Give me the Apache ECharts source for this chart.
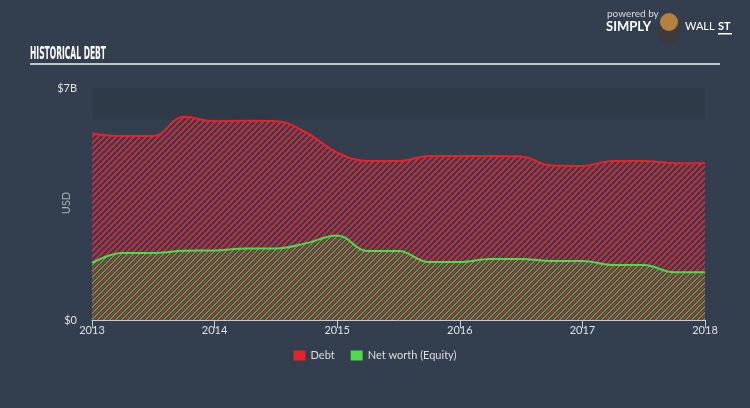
<!DOCTYPE html>
<html>
<head>
<meta charset="utf-8">
<script src="https://cdn.jsdelivr.net/npm/echarts@6/dist/echarts.min.js"></script>
<style>
html,body{margin:0;padding:0;background:#333f4f;}
#c{width:750px;height:408px;}
</style>
</head>
<body>
<div id="c"></div>
<script>
var periods = [2013, 2013.25, 2013.5, 2013.75, 2014, 2014.25, 2014.5, 2014.75, 2015, 2015.25, 2015.5, 2015.75, 2016, 2016.25, 2016.5, 2016.75, 2017, 2017.25, 2017.5, 2017.75, 2018];
var debt = [5.63, 5.55, 5.55, 6.13, 6.00, 6.01, 6.00, 5.65, 5.05, 4.80, 4.80, 4.95, 4.95, 4.95, 4.93, 4.66, 4.65, 4.80, 4.80, 4.73, 4.73];
var equity = [1.72, 2.02, 2.02, 2.09, 2.10, 2.16, 2.16, 2.32, 2.55, 2.08, 2.08, 1.75, 1.75, 1.84, 1.84, 1.78, 1.78, 1.66, 1.66, 1.44, 1.44];
var yearTicks = [2013, 2014, 2015, 2016, 2017, 2018];
var yLabels = {0: '$0', 7: '$7B'};

// diagonal stripe tile with period N: stripes = [color, offset, thickness]
function makeTile(n, stripes, bg) {
  var cv = document.createElement('canvas');
  cv.width = n; cv.height = n;
  var ctx = cv.getContext('2d');
  if (bg) { ctx.fillStyle = bg; ctx.fillRect(0, 0, n, n); }
  stripes.forEach(function (s) {
    ctx.fillStyle = s[0];
    for (var t = 0; t < s[2]; t++) {
      for (var i = 0; i < n; i++) {
        ctx.fillRect(i, (n - 1 - i + s[1] + t + 2 * n) % n, 1, 1);
      }
    }
  });
  return cv;
}
var redTile = makeTile(6, [['#c42a3a', 0, 3]], '#333f4f');
var mixTile = makeTile(6, [['#b83238', 0, 2], ['#54a444', 3, 2]], '#333f4f');

function pairs(vals) {
  return periods.map(function (p, i) { return [p, vals[i]]; });
}

var titleFont = 'bold 17px "Liberation Sans Narrow", "DejaVu Sans Condensed", sans-serif';
var mc = document.createElement('canvas').getContext('2d');
mc.font = titleFont;
var titleScale = 76 / mc.measureText('HISTORICAL DEBT').width;

var chart = echarts.init(document.getElementById('c'), null, {renderer: 'canvas'});
chart.setOption({
  backgroundColor: '#333f4f',
  animation: false,
  grid: {left: 92, right: 45, top: 88, bottom: 88},
  legend: {
    bottom: 42,
    left: 'center',
    itemWidth: 12,
    itemHeight: 10,
    itemGap: 16,
    icon: 'rect',
    textStyle: {color: '#dddddd', fontSize: 11, fontFamily: 'Lato'},
    data: [
      {name: 'Debt', itemStyle: {color: '#e8222b'}},
      {name: 'Net worth (Equity)', itemStyle: {color: '#4ddb4a'}}
    ]
  },
  xAxis: {
    type: 'value',
    min: 2013, max: 2018, interval: 1,
    axisLine: {lineStyle: {color: '#c8ccd2', width: 1}},
    axisTick: {show: true, length: 8, lineStyle: {color: '#c8ccd2'}},
    axisLabel: {color: '#e0e0e0', fontSize: 11, fontFamily: 'Lato', margin: 5,
      formatter: function (v) { return yearTicks.indexOf(v) >= 0 ? String(v) : ''; }},
    splitLine: {show: false}
  },
  yAxis: {
    type: 'value',
    min: 0, max: 7, interval: 7,
    axisLine: {show: false},
    axisTick: {show: false},
    axisLabel: {color: '#e0e0e0', fontSize: 11, fontFamily: 'Lato', margin: 15,
      formatter: function (v) { return yLabels[v] !== undefined ? yLabels[v] : ''; }},
    splitLine: {show: false}
  },
  graphic: [
    {type: 'text', x: 30, y: 46, scaleX: titleScale,
      style: {text: 'HISTORICAL DEBT', fill: '#ffffff', font: titleFont}},
    {type: 'rect', shape: {x: 30, y: 63, width: 690, height: 2}, style: {fill: '#c0c6ce'}},
    {type: 'text', x: 66, y: 203, rotation: Math.PI / 2,
      style: {text: 'USD', fill: '#aab0b8', font: '11px Lato', align: 'center', verticalAlign: 'middle'}},
    {type: 'text', x: 607, y: 9, style: {text: 'powered by', fill: '#d8dce0', font: '10px Lato'}},
    {type: 'text', x: 606, y: 20, style: {text: 'SIMPLY', fill: '#ffffff', font: 'bold 13px Lato'}},
    {type: 'circle', shape: {cx: 669, cy: 32, r: 12}, style: {fill: '#3b3b3e'}},
    {type: 'circle', shape: {cx: 669, cy: 22, r: 9}, style: {fill: '#b5813f'}},
    {type: 'text', x: 685, y: 21, style: {text: 'WALL', fill: '#ffffff', font: '11px Lato'}},
    {type: 'text', x: 718, y: 21, style: {text: 'ST', fill: '#ffffff', font: 'bold 11px Lato'}},
    {type: 'rect', shape: {x: 718, y: 33, width: 14, height: 1.5}, style: {fill: '#ffffff'}}
  ],
  series: [
    {
      name: 'Debt',
      type: 'line',
      data: pairs(debt),
      smooth: 0.4,
      symbol: 'none',
      lineStyle: {color: '#e8222b', width: 2},
      itemStyle: {color: '#e8222b'},
      areaStyle: {color: {image: redTile, repeat: 'repeat'}, opacity: 1},
      z: 2,
      markArea: {
        silent: true,
        itemStyle: {color: '#2e3a48'},
        data: [[{yAxis: 6.05, xAxis: 2013}, {yAxis: 7, xAxis: 2018}]],
        z: -1
      }
    },
    {
      name: 'Net worth (Equity)',
      type: 'line',
      data: pairs(equity),
      smooth: 0.4,
      symbol: 'none',
      lineStyle: {color: '#4ddb4a', width: 2},
      itemStyle: {color: '#4ddb4a'},
      areaStyle: {color: {image: mixTile, repeat: 'repeat'}, opacity: 1},
      z: 3
    }
  ]
});
</script>
</body>
</html>
